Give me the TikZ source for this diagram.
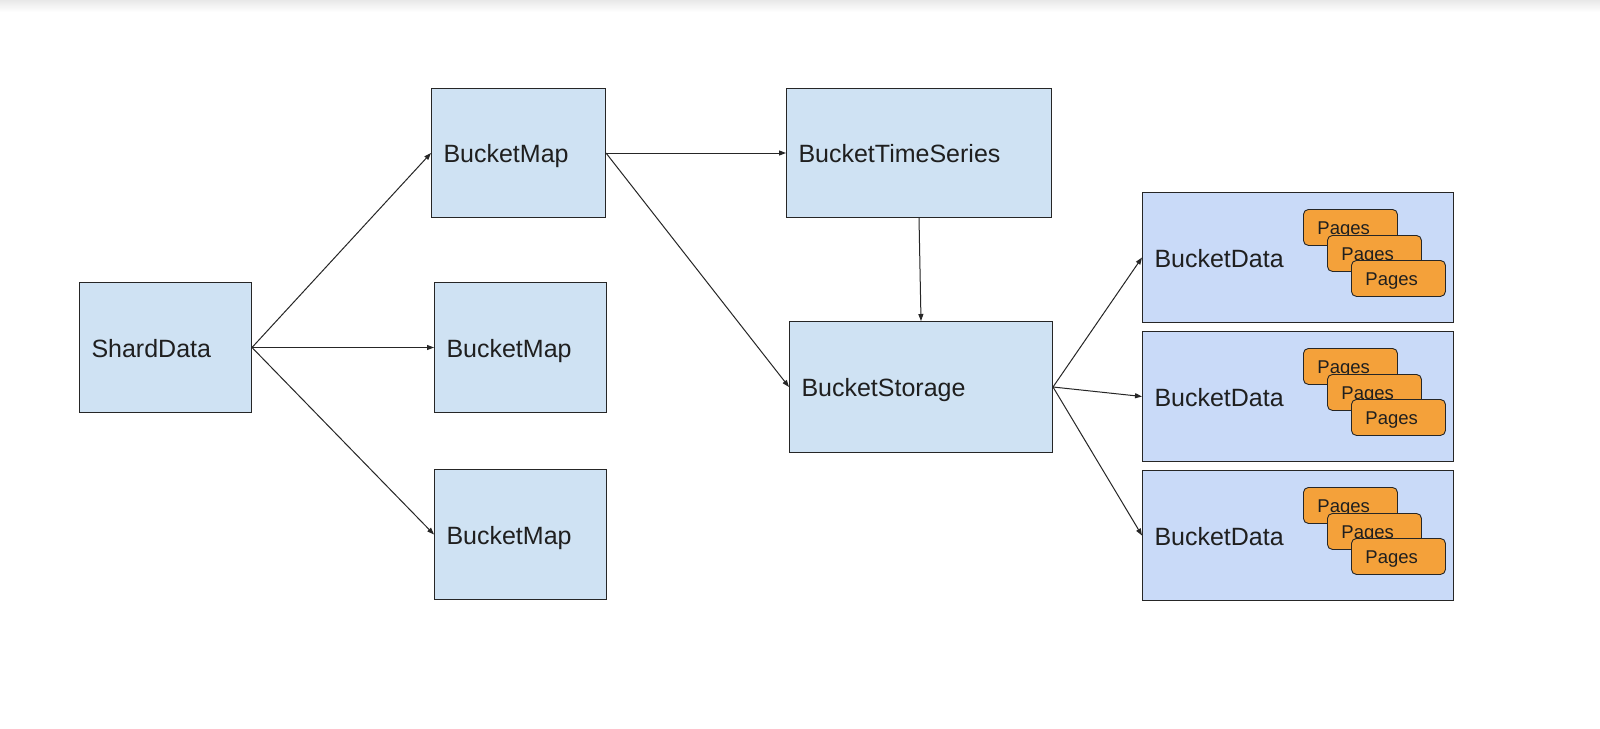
\documentclass[tikz,border=0pt]{standalone}
\usepackage{fontspec}
\setmainfont{Liberation Sans}
\usetikzlibrary{arrows.meta}
\definecolor{boxblue}{HTML}{CFE2F3}
\definecolor{datablue}{HTML}{C9DAF8}
\definecolor{pageorange}{HTML}{F4A13A}
\definecolor{edgecol}{HTML}{262626}
\begin{document}
\begin{tikzpicture}[x=1pt,y=-1pt,
  box/.style={draw=edgecol, line width=1pt, fill=boxblue, anchor=north west,
    inner xsep=12pt, inner ysep=0pt, align=left, text height=19.5pt, text depth=0pt,
    font=\fontsize{25}{30}\selectfont, text=black!88},
  databox/.style={box, fill=datablue, minimum height=130pt, text width=287pt},
  pagebox/.style={draw=edgecol, line width=0.9pt, fill=pageorange, rounded corners=5pt,
    anchor=north west, minimum height=36pt, text width=66pt, inner xsep=14pt, inner ysep=0pt,
    text height=14pt, text depth=0pt,
    align=left, font=\fontsize{18.5}{22}\selectfont, text=black!88},
  conn/.style={draw=edgecol, line width=1pt, -{Triangle[length=7pt,width=5pt]}}
]
\useasboundingbox (0,0) rectangle (1600,728);
\fill[white] (0,0) rectangle (1600,728);
\shade[top color=black!9, bottom color=white] (0,0) rectangle (1600,12);

\node[box, minimum height=130pt, text width=148pt] (shard) at (79,282) {ShardData};
\node[box, minimum height=129pt, text width=150pt] (bm1) at (431,88) {BucketMap};
\node[box, minimum height=130pt, text width=148pt] (bm2) at (434,282) {BucketMap};
\node[box, minimum height=130pt, text width=148pt] (bm3) at (434,469) {BucketMap};
\node[box, minimum height=129pt, text width=241pt] (bts) at (786,88) {BucketTimeSeries};
\node[box, minimum height=131pt, text width=239pt] (bs) at (789,321) {BucketStorage};

\node[databox] (bd1) at (1142,192) {BucketData};
\node[databox] (bd2) at (1142,331) {BucketData};
\node[databox] (bd3) at (1142,470) {BucketData};

\foreach \n/\y in {1/192,2/331,3/470}{
  \node[pagebox] (p\n a) at (1303,\y+17) {Pages};
  \node[pagebox] (p\n b) at (1327,\y+43) {Pages};
  \node[pagebox] (p\n c) at (1351,\y+68) {Pages};
}

\draw[conn] (shard.east) -- (bm1.west);
\draw[conn] (shard.east) -- (bm2.west);
\draw[conn] (shard.east) -- (bm3.west);
\draw[conn] (bm1.east) -- (bts.west);
\draw[conn] (bm1.east) -- (bs.west);
\draw[conn] (bts.south) -- (bs.north);
\draw[conn] (bs.east) -- (bd1.west);
\draw[conn] (bs.east) -- (bd2.west);
\draw[conn] (bs.east) -- (bd3.west);
\end{tikzpicture}
\end{document}
